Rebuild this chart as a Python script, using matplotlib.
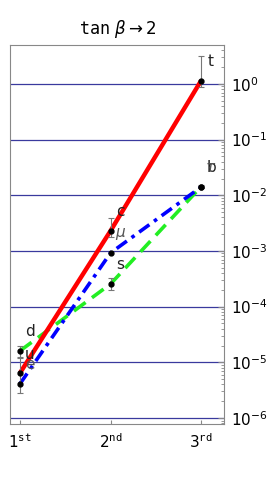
import matplotlib
matplotlib.use("Agg")
import matplotlib.pyplot as plt
import numpy as np

plt.rcParams['mathtext.fontset'] = 'dejavusans'

generations = [1, 2, 3]
gen_labels = [r"1$^{\mathtt{st}}$", r"2$^{\mathtt{nd}}$", r"3$^{\mathtt{rd}}$"]

# up-type quarks (u, c, t)
up_names = ["u", "c", "t"]
up_vals = [6.4e-6, 2.29e-3, 1.146]
up_lo = [2.81e-6, 1.79e-3, 0.873]
up_hi = [1.20e-5, 3.92e-3, 3.18]

# down-type quarks (d, s, b)
down_names = ["d", "s", "b"]
down_vals = [1.60e-5, 2.55e-4, 1.43e-2]
down_lo = [1.25e-5, 2.0e-4, 1.33e-2]
down_hi = [1.97e-5, 3.27e-4, 1.55e-2]

# charged leptons (e, mu, tau)
lep_names = ["e", r"$\mu$", r"$\tau$"]
lep_vals = [4.09e-6, 9.2e-4, 1.41e-2]

yticks = [1e0, 1e-1, 1e-2, 1e-3, 1e-4, 1e-5, 1e-6]
ytick_labels = ["10$^{0}$", "10$^{-1}$", "10$^{-2}$", "10$^{-3}$",
                "10$^{-4}$", "10$^{-5}$", "10$^{-6}$"]

fig = plt.figure(figsize=(2.74, 4.78), dpi=100)
ax = fig.add_axes([0.038, 0.113, 0.780, 0.793])
ax.set_yscale('log')
ax.set_xlim(0.895, 3.254)
ax.set_ylim(10**-6.108, 10**0.70)

for yv in yticks:
    ax.axhline(yv, color='#3a3a9e', lw=0.9, zorder=1)

ax.plot(generations, up_vals, color='#ff0000', lw=3.2, solid_capstyle='butt', zorder=3)
ax.plot(generations, down_vals, color='#22ee22', lw=2.6, ls=(0, (4, 2.2)), zorder=2)
ax.plot(generations, lep_vals, color='#0000ff', lw=2.6, ls=(0, (3.5, 1.6, 1, 1.6)), zorder=2.5)

for vals, lo, hi in [(up_vals, up_lo, up_hi), (down_vals, down_lo, down_hi)]:
    v = np.array(vals)
    yerr = [v - np.array(lo), np.array(hi) - v]
    ax.errorbar(generations, vals, yerr=yerr, fmt='none', ecolor='#777777',
                elinewidth=0.8, capsize=2.5, capthick=0.8, zorder=4)

for vals in [up_vals, down_vals, lep_vals]:
    ax.plot(generations, vals, 'o', color='black', ms=3.5, zorder=5)

for names, vals, col in [(up_names, up_vals, '#222222'),
                         (down_names, down_vals, '#222222'),
                         (lep_names, lep_vals, '#555555')]:
    for g, v, n in zip(generations, vals, names):
        ax.annotate(n, (g, v), xytext=(10, 19), textcoords='offset pixels',
                    ha='center', va='center', fontsize=11, color=col, zorder=6)

ax.set_xticks(generations)
ax.set_xticklabels(gen_labels, fontsize=11)
ax.yaxis.tick_right()
ax.set_yticks(yticks)
ax.set_yticklabels(ytick_labels, fontsize=11)
ax.tick_params(axis='y', which='major', direction='in', length=4, color='#888888', pad=5)
ax.tick_params(axis='y', which='minor', direction='in', length=2, color='#888888')
ax.tick_params(axis='x', which='major', direction='in', length=3, color='#888888', pad=6)
ax.tick_params(axis='y', left=False, which='both')
for s in ax.spines.values():
    s.set_color('#888888')
    s.set_linewidth(0.8)

ax.set_title(r"$\mathtt{tan}\ \beta\rightarrow 2$", fontsize=12, pad=8)

fig.savefig("out.png", dpi=100)
